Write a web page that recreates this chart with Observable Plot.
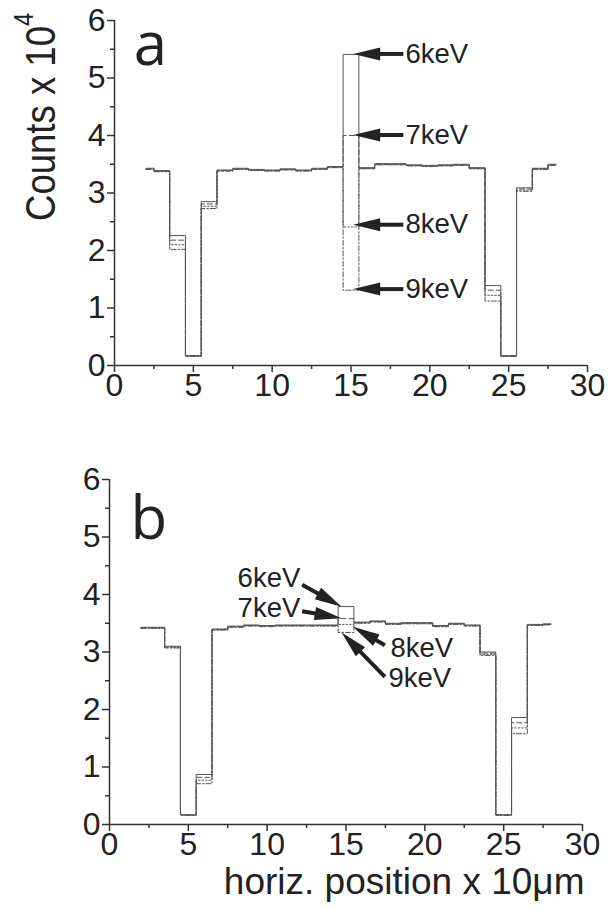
<!DOCTYPE html>
<html><head><meta charset="utf-8">
<script src="https://cdn.jsdelivr.net/npm/d3@7"></script>
<script src="https://cdn.jsdelivr.net/npm/@observablehq/plot@0.6"></script>
<style>
html,body{margin:0;padding:0;background:#fff;}
#chart{width:613px;height:909px;overflow:hidden;}
#chart svg{display:block;}
</style></head><body><div id="chart"></div>
<script>
// ---------- data ----------
const positions = [2,3,4,5,6,7,8,9,10,11,12,13,14,15,16,17,18,19,20,21,22,23,24,25,26,27,28];
const seriesNames = ["6keV","7keV","8keV","9keV"];

// panel a
const a6 = [3.43,3.39,2.26,0.17,2.85,3.40,3.43,3.41,3.40,3.42,3.40,3.43,3.46,5.41,3.44,3.51,3.51,3.49,3.48,3.49,3.50,3.44,1.39,0.17,3.09,3.43,3.50];
const a7 = [3.42,3.38,2.18,0.17,2.81,3.39,3.42,3.40,3.39,3.41,3.39,3.42,3.45,4.00,3.43,3.50,3.50,3.48,3.47,3.48,3.49,3.43,1.31,0.17,3.07,3.42,3.49];
const a8 = [3.42,3.38,2.10,0.16,2.77,3.39,3.42,3.40,3.39,3.41,3.39,3.42,3.45,2.41,3.43,3.50,3.50,3.48,3.47,3.48,3.49,3.43,1.22,0.16,3.05,3.42,3.49];
const a9 = [3.41,3.37,2.02,0.16,2.73,3.38,3.41,3.39,3.38,3.40,3.38,3.41,3.44,1.31,3.42,3.49,3.49,3.47,3.46,3.47,3.48,3.42,1.12,0.16,3.03,3.41,3.48];

// panel b
const b6 = [3.43,3.43,3.10,0.17,0.87,3.40,3.45,3.47,3.46,3.47,3.47,3.47,3.47,3.79,3.52,3.54,3.50,3.51,3.51,3.46,3.50,3.47,3.00,0.17,1.86,3.48,3.49];
const b7 = [3.42,3.42,3.09,0.17,0.82,3.39,3.44,3.46,3.45,3.46,3.46,3.46,3.46,3.58,3.51,3.53,3.49,3.50,3.50,3.45,3.49,3.46,2.98,0.17,1.77,3.47,3.48];
const b8 = [3.42,3.42,3.08,0.16,0.77,3.39,3.44,3.46,3.45,3.46,3.46,3.46,3.46,3.48,3.51,3.53,3.49,3.50,3.50,3.45,3.49,3.46,2.96,0.16,1.68,3.47,3.48];
const b9 = [3.41,3.41,3.07,0.16,0.71,3.38,3.43,3.45,3.44,3.45,3.45,3.45,3.45,3.34,3.50,3.52,3.48,3.49,3.49,3.44,3.48,3.45,2.94,0.16,1.58,3.46,3.47];

// axes
const xMajor = [0,5,10,15,20,25,30];
const xMinor = [2.5,7.5,12.5,17.5,22.5,27.5];
const yMajor = [0,1,2,3,4,5,6];
const yMinor = [0.5,1.5,2.5,3.5,4.5,5.5];

// annotations (data units)
const aLabels = [
  {text:"6keV", x:18.45, y:5.41, anchor:"start"},
  {text:"7keV", x:18.45, y:4.00, anchor:"start"},
  {text:"8keV", x:18.45, y:2.45, anchor:"start"},
  {text:"9keV", x:18.45, y:1.33, anchor:"start"}
];
const aArrows = [
  {x1:18.35, y1:5.41, x2:15.17, y2:5.41},
  {x1:18.35, y1:4.00, x2:15.17, y2:4.00},
  {x1:18.35, y1:2.44, x2:15.17, y2:2.44},
  {x1:18.35, y1:1.32, x2:15.17, y2:1.32}
];
const bLabels = [
  {text:"6keV", x:12.1, y:4.28, anchor:"end"},
  {text:"7keV", x:12.1, y:3.76, anchor:"end"},
  {text:"8keV", x:17.82, y:3.06, anchor:"start"},
  {text:"9keV", x:17.69, y:2.54, anchor:"start"}
];
const bArrows = [
  {x1:12.25, y1:4.16, x2:14.75, y2:3.78},
  {x1:12.25, y1:3.70, x2:14.75, y2:3.58},
  {x1:17.5, y1:3.11, x2:15.47, y2:3.43},
  {x1:17.5, y1:2.56, x2:14.75, y2:3.33}
];
const panelLetters = [{text:"a", x:2.28, y:5.22}, {text:"b", x:2.49, y:4.97}];

// ---------- styles ----------
const dashes = [null, "5,3", "1.5,2", "5,2,1.5,2"];
const FONT = "'Liberation Sans', Arial, Helvetica, sans-serif";
const LINE = "#555";
const AX = "#333";

function table(vals) {
  const rows = [];
  vals.forEach((arr, i) => arr.forEach((v, j) => rows.push({x: positions[j], y: v, series: seriesNames[i]})));
  return rows;
}

function arrowMark(arrows) {
  return (index, scales) => {
    const g = d3.create("svg:g");
    for (const a of arrows) {
      const x1 = scales.x(a.x1), y1 = scales.y(a.y1), x2 = scales.x(a.x2), y2 = scales.y(a.y2);
      const dx = x2 - x1, dy = y2 - y1, L = Math.hypot(dx, dy), ux = dx / L, uy = dy / L;
      const hl = 27, hw = 6.5;
      const bx = x2 - ux * hl, by = y2 - uy * hl;
      g.append("line").attr("x1", x1).attr("y1", y1).attr("x2", bx + ux * 2).attr("y2", by + uy * 2)
        .attr("stroke", "#222").attr("stroke-width", 4);
      g.append("path").attr("d", `M${x2},${y2}L${bx - uy * hw},${by + ux * hw}L${bx + uy * hw},${by - ux * hw}Z`)
        .attr("fill", "#222");
    }
    return g.node();
  };
}

function yLabelMark() {
  return () => {
    const t = d3.create("svg:text")
      .attr("transform", "translate(55,221) rotate(-90) scale(0.85,1)")
      .attr("text-anchor", "start")
      .attr("font-family", FONT).attr("font-size", 43).attr("fill", "#222");
    t.append("tspan").text("Counts x 10");
    t.append("tspan").attr("font-size", 28).attr("dy", "-0.8em").text("4");
    return t.node();
  };
}

function panel(vals, opts) {
  const data = table(vals);
  const lines = [3,2,1,0].map(i => Plot.line(data.filter(d => d.series === seriesNames[i]), {
    x: "x", y: "y", curve: "step", stroke: LINE, strokeWidth: 1,
    strokeDasharray: dashes[i] || undefined
  }));
  const marks = [
    ...lines,
    Plot.ruleY([0], {stroke: AX, strokeWidth: 1.5}),
    Plot.ruleX([0], {stroke: AX, strokeWidth: 1.5}),
    Plot.axisX({ticks: xMajor, tickSize: 7, tickPadding: 1, tickFormat: "d", fontSize: 32, stroke: AX, strokeWidth: 1.5, fill: "#222", label: null}),
    Plot.axisX({ticks: xMinor, tickSize: 4, tickFormat: () => "", stroke: AX, strokeWidth: 1.5, label: null}),
    Plot.axisY({ticks: yMajor, tickSize: 7, tickPadding: 2, tickFormat: "d", fontSize: 32, stroke: AX, strokeWidth: 1.5, fill: "#222", label: null}),
    Plot.axisY({ticks: yMinor, tickSize: 4, tickFormat: () => "", stroke: AX, strokeWidth: 1.5, label: null}),
    Plot.text(opts.labels.filter(d => d.anchor === "start"), {x: "x", y: "y", text: "text", textAnchor: "start", fontSize: 27.5, fill: "#222"}),
    Plot.text(opts.labels.filter(d => d.anchor === "end"), {x: "x", y: "y", text: "text", textAnchor: "end", fontSize: 27.5, fill: "#222"}),
    Plot.text([opts.letter], {x: "x", y: "y", text: "text", lineAnchor: "bottom", textAnchor: "middle", fontSize: 60, fontFamily: "'Open Sans', 'DejaVu Sans', sans-serif", fill: "#222"}),
    arrowMark(opts.arrows),
    ...(opts.extra || [])
  ];
  return Plot.plot({
    width: 613, height: opts.height,
    marginLeft: opts.ml, marginRight: opts.mr, marginTop: opts.mt, marginBottom: opts.mb,
    x: {domain: [0, 30]},
    y: {domain: [0, 6]},
    style: {fontFamily: FONT, background: "#fff", color: "#222", overflow: "visible"},
    marks
  });
}

const chart = document.getElementById("chart");
chart.append(panel([a6, a7, a8, a9], {
  height: 430, ml: 114, mr: 26, mt: 20, mb: 65,
  labels: aLabels, arrows: aArrows, letter: panelLetters[0],
  extra: [yLabelMark()]
}));
chart.append(panel([b6, b7, b8, b9], {
  height: 479, ml: 109, mr: 31, mt: 49, mb: 85,
  labels: bLabels, arrows: bArrows, letter: panelLetters[1],
  extra: [Plot.text(["horiz. position x 10\u03bcm"], {frameAnchor: "bottom-right", dx: 2, dy: 69, lineAnchor: "bottom", textAnchor: "end", fontSize: 37, fill: "#222"})]
}));
</script>
</body></html>
